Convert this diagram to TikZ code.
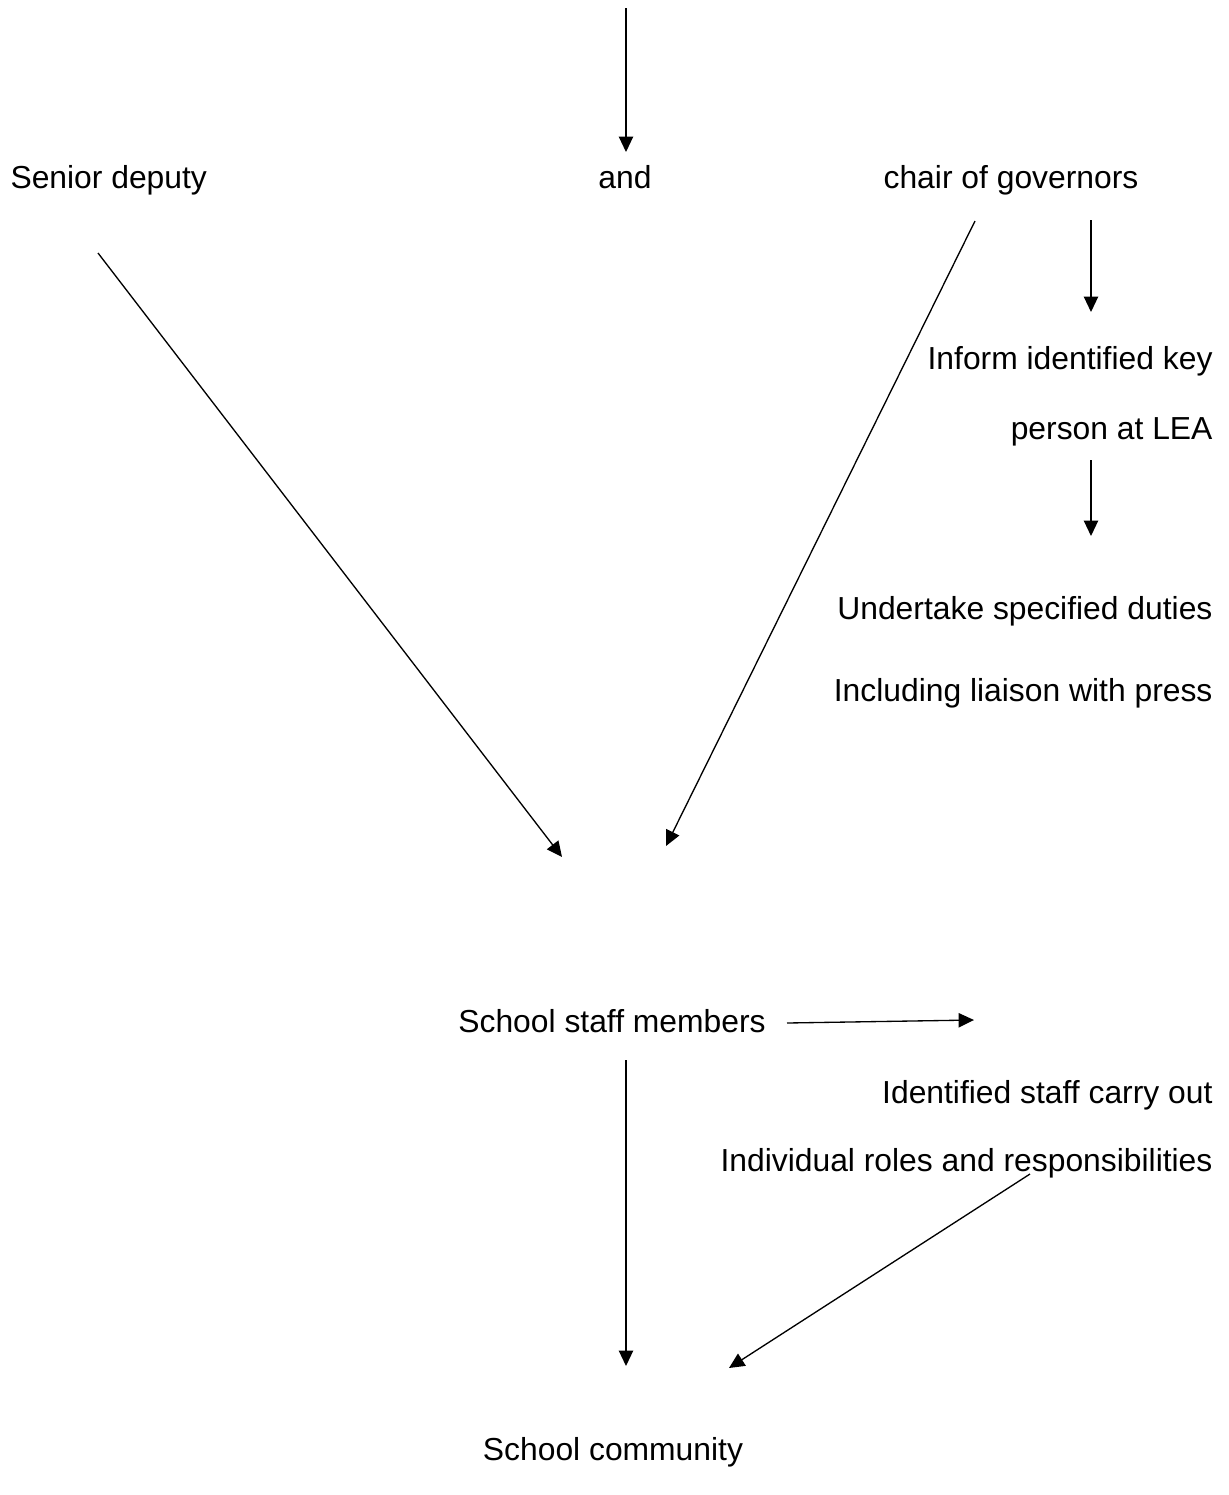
\documentclass[tikz,border=0pt]{standalone}
\usepackage{fontspec}
\setmainfont{Liberation Sans}
\usetikzlibrary{arrows.meta}
\begin{document}
\begin{tikzpicture}[x=0.377pt,y=-0.377pt,
  lbl/.style={inner sep=0pt,font=\fontsize{12pt}{14pt}\selectfont},
  lblr/.style={lbl,anchor=mid east},
  lblc/.style={lbl,anchor=mid},
  lbll/.style={lbl,anchor=mid west},
  conn/.style={line width=0.5pt,-{Triangle[length=5.8pt,width=5.4pt]}}]
\useasboundingbox (0,0) rectangle (1228,1495);
% texts
\node[lbll] (senior) at (10,181) {Senior deputy};
\node[lblc] (and) at (625,181) {and};
\node[lblc] (chair) at (1011,181) {chair of governors};
\node[lblr] (inform) at (1213,362) {Inform identified key};
\node[lblr] (person) at (1213,432) {person at LEA};
\node[lblr] (undertake) at (1213,612) {Undertake specified duties};
\node[lblr] (including) at (1213,694) {Including liaison with press};
\node[lblc] (staff) at (612,1025) {School staff members};
\node[lblr] (identified) at (1213,1096) {Identified staff carry out};
\node[lblr] (individual) at (1213,1164) {Individual roles and responsibilities};
\node[lblc] (community) at (613,1453) {School community};
% connector end points
\coordinate (t0) at (626,8);
\coordinate (t1) at (626,152);
\coordinate (s0) at (98,253);
\coordinate (s1) at (562,857);
\coordinate (c0) at (975,221);
\coordinate (c1) at (666,846);
\coordinate (g0) at (1091,220);
\coordinate (g1) at (1091,312);
\coordinate (p0) at (1091,460);
\coordinate (p1) at (1091,536);
\coordinate (m0) at (787,1023);
\coordinate (m1) at (974,1020);
\coordinate (d0) at (626,1060);
\coordinate (d1) at (626,1366);
\coordinate (r0) at (1030,1174);
\coordinate (r1) at (729,1368);
% connectors
\draw[conn] (t0) -- (t1);
\draw[conn] (s0) -- (s1);
\draw[conn] (c0) -- (c1);
\draw[conn] (g0) -- (g1);
\draw[conn] (p0) -- (p1);
\draw[conn] (m0) -- (m1);
\draw[conn] (d0) -- (d1);
\draw[conn] (r0) -- (r1);
\end{tikzpicture}
\end{document}
